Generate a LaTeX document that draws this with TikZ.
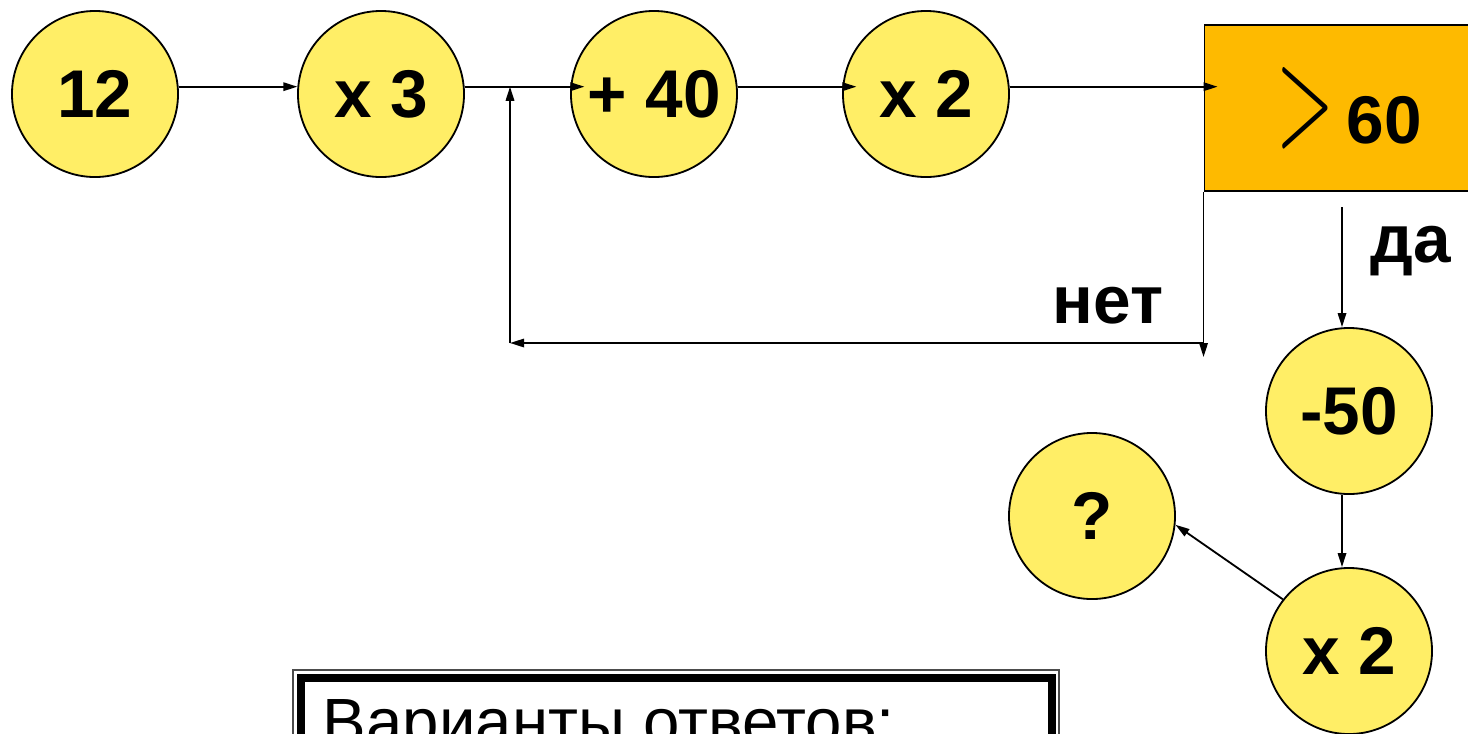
\documentclass[tikz,border=0pt]{standalone}
\usepackage{fontspec}
\setmainfont{Liberation Sans}
\usetikzlibrary{arrows.meta,positioning}
\definecolor{opyellow}{RGB}{255,238,102}
\definecolor{testorange}{RGB}{254,186,0}

\begin{document}
\begin{tikzpicture}[x=0.025cm,y=-0.025cm,>={Triangle[length=10pt,width=6pt]},line width=1.3pt,op/.style = {draw, circle, fill = opyellow, minimum size = 4.15cm, inner sep = 0pt, font = \fontsize{48}{50}\selectfont\bfseries},lbl/.style = {anchor = base, inner sep = 0pt, font = \fontsize{48}{50}\selectfont\bfseries},]
\useasboundingbox (0,0) rectangle (1468,733);
\node (n12) at (95,94)[op] {12};
\node (n3) at (381,94)[op] {x 3};
\node (n40) at (654,94)[op] {+ 40};
\node (n2) at (926,94)[op] {x 2};
\node (test) at (1352,108)[draw, fill = testorange, minimum width = 7.375cm, minimum height = 4.15cm] {};
\node (gt) at (1305,108) {\resizebox{41pt}{54pt}{$>$}};
\node (sixty) at (1384,143)[lbl] {60};
\node (m50) at (1349,411)[op] {-50};
\node (x2b) at (1349,651)[op] {x 2};
\node (q) at (1092,516)[op] {?};
\node (no) at (1108,323)[lbl] {нет};
\node (yes) at (1411,262)[lbl] {да};
\coordinate (back) at (510,343);
\coordinate (turn) at (test.south west |- back);
\coordinate (drop) at ([yshift=-10pt]turn);
\coordinate (split) at (1342,207);
\draw[->] (n12.5)--(n3.175);
\draw[->,shorten >=-10pt] (n3.5)--(n40.175);
\draw[->,shorten >=-10pt] (n40.5)--(n2.175);
\draw[->,shorten >=-10pt] (n2.5)--(n2.5 -| test.west);
\draw[->] (test.south west)--(drop);
\draw[->] (turn)--(back);
\draw[->] (back)--(back |- n3.5);
\draw[->] (split)--(split |- m50.north);
\draw[->] (split |- m50.south)--(split |- x2b.north);
\draw[->] (x2b.142)--(q.354);
\draw[line width=1pt,black!70] (293,670) rectangle (1059,800);
\draw[line width=5.7pt] (301,678) rectangle (1052,800);
\node (answers) at (322,744)[anchor = base west, inner sep = 0pt, font = \fontsize{46.5}{50}\selectfont] {Варианты ответов:};
\end{tikzpicture}
\end{document}
